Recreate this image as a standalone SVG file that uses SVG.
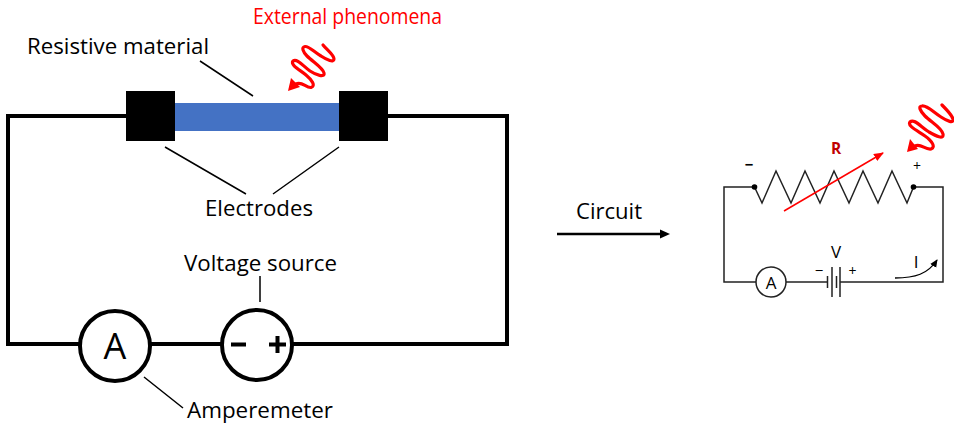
<svg xmlns="http://www.w3.org/2000/svg" width="954" height="425" viewBox="0 0 954 425">
<style>
text{font-family:"Open Sans","Noto Sans","Liberation Sans",sans-serif;font-size:22.5px;fill:#000}
.w{fill:none;stroke:#000;stroke-width:4}
.l{fill:none;stroke:#000;stroke-width:1.5}
.s{fill:none;stroke:#222;stroke-width:1.5}
.wave{fill:none;stroke:#f00;stroke-width:3.2;stroke-linejoin:round;stroke-linecap:round}
.red{fill:#f00}
</style>
<defs>
<marker id="ah" markerWidth="8" markerHeight="8" refX="7" refY="4" orient="auto" markerUnits="userSpaceOnUse"><path d="M0,0.5L8,4L0,7.5Z" fill="#000"/></marker>
<marker id="ar" markerWidth="10" markerHeight="8" refX="9" refY="4" orient="auto" markerUnits="userSpaceOnUse"><path d="M0,0L10,4L0,8Z" fill="#f00"/></marker>
</defs>
<g id="connectors">
<path class="w" d="M126,116H8V344H80M150,344H222M292,344H507V116H388"/>
<path class="l" d="M200,61L253,96M165,147L246,194M339,147L273,194M260,276V302M144,377L183,408"/>
<path d="M557,234H662" fill="none" stroke="#000" stroke-width="2.500"/>
<path d="M670,234L660,229.500V238.500Z" fill="#000"/>
</g>
<g id="resistive-material"><rect x="175" y="103" width="164" height="28" fill="#4472c4"/></g>
<g id="electrode-left"><rect x="126" y="91" width="49" height="50" fill="#000"/></g>
<g id="electrode-right"><rect x="339" y="91" width="49" height="50" fill="#000"/></g>
<g id="ammeter"><circle cx="115" cy="346" r="35" fill="#fff" stroke="#000" stroke-width="4"/><text x="115" y="358.500" text-anchor="middle" style="font-size:36px">A</text></g>
<g id="voltage-source"><circle cx="257" cy="345" r="35" fill="#fff" stroke="#000" stroke-width="4"/><path d="M231,344.500H246M269,344.500H286M277.500,336V353" fill="none" stroke="#000" stroke-width="4"/></g>
<g id="wave-big">
<path class="wave" d="M296,84C302,81 306,88 311,87.500C316,86 312,80 306,75C300,70 290,65 293,61C297,58 303,66 310,71C316,75 325,78 324,73C323,68 313,62 307,56C303,52 301,47 305,46.500C309,46 314,52 321,56C327,60 334,63 334,59C334,55 327,50 323,45"/>
<path d="M288,91L291,78L300,87Z" class="red"/>
</g>
<g id="labels">
<text x="253" y="24" style="fill:#f00" textLength="189" lengthAdjust="spacingAndGlyphs">External phenomena</text>
<text x="27" y="53.500" textLength="182" lengthAdjust="spacingAndGlyphs">Resistive material</text>
<text x="205" y="216" textLength="108" lengthAdjust="spacingAndGlyphs">Electrodes</text>
<text x="184" y="271" textLength="153" lengthAdjust="spacingAndGlyphs">Voltage source</text>
<text x="187" y="418" textLength="146" lengthAdjust="spacingAndGlyphs" style="font-size:21.5px">Amperemeter</text>
<text x="576" y="219" textLength="66" lengthAdjust="spacingAndGlyphs">Circuit</text>
</g>
<g id="small-circuit">
<path class="s" d="M754.500,187H724V282H756M786,282H827M840,282H943V187H913.500"/>
<path class="s" d="M754.500,187L762,203L776,171L791,203L805,171L820,203L834,171L849,203L863,171L878,203L892,171L907,203L913.500,187"/>
<circle cx="754.500" cy="187" r="2.800" fill="#000"/><circle cx="913.500" cy="187" r="2.800" fill="#000"/>
<path class="s" d="M827.500,276V288M832,267V297M836.500,276V288M840,267V297"/>
<path d="M784,211L883,153" fill="none" stroke="#f00" stroke-width="1.500" marker-end="url(#ar)"/>
<path d="M895,278C915,278 928,274 937,260" fill="none" stroke="#000" stroke-width="1.300" marker-end="url(#ah)"/>
</g>
<g id="small-ammeter"><circle cx="771" cy="282" r="15" fill="#fff" stroke="#222" stroke-width="1.500"/><text x="771" y="288.500" text-anchor="middle" style="font-size:17px">A</text></g>
<g id="wave-small">
<path class="wave" d="M915,146C921,143 925,150 931,149C936,147 932,141 925,136C918,131 907,126 910,122C914,118 921,127 929,132C936,136 944,140 943,134C942,128 931,122 925,116C920,111 918,106 922,106C927,105 933,112 941,117C947,121 954,124 953,119C952,115 947,110 942,105"/>
<path d="M907,152L910,139L918,149Z" class="red"/>
</g>
<g id="small-labels">
<text x="836" y="154" text-anchor="middle" style="font-size:15.500px;font-weight:bold;fill:#c00000">R</text>
<text x="749" y="170" text-anchor="middle" style="font-size:15px;font-weight:bold">−</text>
<text x="917" y="171" text-anchor="middle" style="font-size:14px">+</text>
<text x="836" y="258" text-anchor="middle" style="font-size:17px">V</text>
<text x="819" y="276" text-anchor="middle" style="font-size:15px">−</text>
<text x="852.500" y="276" text-anchor="middle" style="font-size:14px">+</text>
<text x="916" y="268" text-anchor="middle" style="font-size:17px">I</text>
</g>
</svg>
